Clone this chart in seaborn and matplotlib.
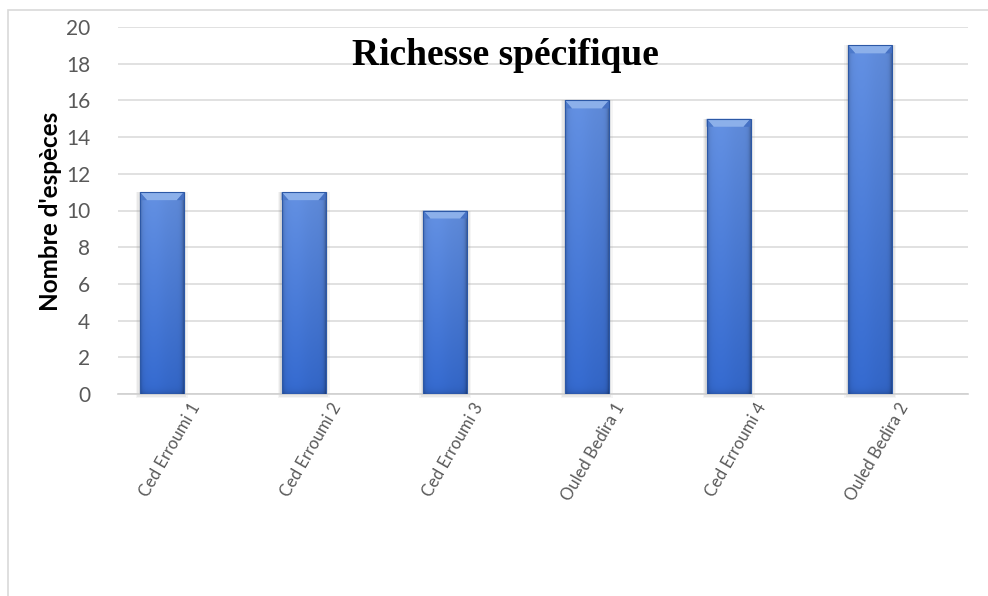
import numpy as np
import pandas as pd
import matplotlib
matplotlib.use("Agg")
import matplotlib.pyplot as plt
import matplotlib.transforms as mtransforms
from matplotlib.patches import Polygon, Rectangle
from matplotlib.colors import to_rgb
import seaborn as sns

# ---- data ----
sites = ["Ced Erroumi 1", "Ced Erroumi 2", "Ced Erroumi 3",
         "Ouled Bedira 1", "Ced Erroumi 4", "Ouled Bedira 2"]
especes = [11, 11, 10, 16, 15, 19]
yticks = [0, 2, 4, 6, 8, 10, 12, 14, 16, 18, 20]
title = "Richesse spécifique"
ylabel = "Nombre d'espèces"

sns.set_theme(style="white")
plt.rcParams["font.family"] = ["Lato", "DejaVu Sans"]

W, H = 988, 596
fig = plt.figure(figsize=(W / 100, H / 100), dpi=100)
ax = fig.add_axes([118 / W, 1 - 394 / H, 850 / W, 367 / H])

df = pd.DataFrame({"site": sites, "n": especes})
sns.barplot(data=df, x="site", y="n", color="#4472C4", width=0.31,
            saturation=1, ax=ax, edgecolor="#2c58a6", linewidth=0.8, zorder=3)

ax.set_ylim(0, 20)
ax.set_xlim(-0.31, 5.69)
ax.set_yticks(yticks)
ax.yaxis.grid(True, color="#d9d9d9", linewidth=1.1)
ax.xaxis.grid(False)
ax.set_axisbelow(True)
for s in ["left", "right", "top"]:
    ax.spines[s].set_visible(False)
ax.spines["bottom"].set_color("#d0d0d0")
ax.spines["bottom"].set_linewidth(1.2)
ax.set_xlabel("")
ax.set_ylabel("")
ax.tick_params(axis="both", length=0, colors="#595959")
ax.tick_params(axis="y", pad=20, labelsize=15)
ax.tick_params(axis="x", pad=0)

offset = mtransforms.ScaledTranslation(0.34, -0.10, fig.dpi_scale_trans)
for lab in ax.get_xticklabels():
    lab.set_rotation(60)
    lab.set_ha("right")
    lab.set_va("center")
    lab.set_rotation_mode("anchor")
    lab.set_fontsize(12)
    lab.set_transform(lab.get_transform() + offset)

# ---- bar shading (gradient + top bevel) ----
ctop = np.array(to_rgb("#5f8ad8"))
cbot = np.array(to_rgb("#3265c6"))
px_per_x = 850 / 6.0
px_per_y = 367 / 20.0
for p in list(ax.patches):
    x, y0 = p.get_x(), p.get_y()
    w, h = p.get_width(), p.get_height()
    ny, nx = 300, 60
    v = np.linspace(0, 1, ny)[:, None, None]
    u = np.linspace(0, 1, nx)[None, :, None]
    base = ctop * (1 - v) + cbot * v
    hpx = h * px_per_y
    fac = (1.0 + 0.05 * np.exp(-((u - 0.3) / 0.3) ** 2)
           - 0.22 * np.exp(-u / 0.04) - 0.28 * np.exp(-(1 - u) / 0.04)
           - 0.15 * np.exp(-(1 - v) * hpx / 3.0))
    arr = np.clip(base * fac, 0, 1)
    # soft shadow
    for k, a in [(4, 0.07), (2.5, 0.10), (1.2, 0.14)]:
        sh = Rectangle((x - k / px_per_x, y0 - k / px_per_y), w + 2 * k / px_per_x,
                       h + k / px_per_y, facecolor="#7f7f7f", alpha=a,
                       edgecolor="none", zorder=2.5, clip_on=False)
        ax.add_patch(sh)
    im = ax.imshow(arr, extent=[x, x + w, y0, y0 + h], aspect="auto",
                   origin="upper", zorder=3.1, interpolation="bilinear")
    im.set_clip_path(p)
    p.set_facecolor("none")
    p.set_zorder(3.5)
    bw = 7 / px_per_x
    bh = 8 / px_per_y
    bevel = Polygon([[x, y0 + h], [x + w, y0 + h], [x + w - bw, y0 + h - bh],
                     [x + bw, y0 + h - bh]], closed=True,
                    facecolor="#8cb0ea", edgecolor="none", zorder=3.3)
    ax.add_patch(bevel)
    lside = Polygon([[x, y0 + h], [x + bw, y0 + h - bh], [x, y0 + h - bh]],
                    closed=True, facecolor="#4d7acb", edgecolor="none", zorder=3.3)
    ax.add_patch(lside)
    rside = Polygon([[x + w, y0 + h], [x + w - bw, y0 + h - bh], [x + w, y0 + h - bh]],
                    closed=True, facecolor="#4772c4", edgecolor="none", zorder=3.3)
    ax.add_patch(rside)

ax.set_xlim(-0.31, 5.69)
ax.set_ylim(0, 20)

# ---- texts ----
fig.text(505 / W, 1 - 65 / H, title, ha="center", va="baseline",
         family=["Liberation Serif", "DejaVu Serif"], weight="bold",
         fontsize=27, color="black")
fig.text(50 / W, 1 - 211 / H, ylabel, ha="center", va="center", rotation=90,
         weight="bold", fontsize=17.5, color="black")

# outer chart frame
fig.add_artist(Rectangle((8 / W, -0.1), 1.2, (1 - 10 / H) + 0.1,
                         transform=fig.transFigure, fill=False,
                         edgecolor="#d9d9d9", linewidth=1.2))

fig.savefig("out.png", dpi=100)
